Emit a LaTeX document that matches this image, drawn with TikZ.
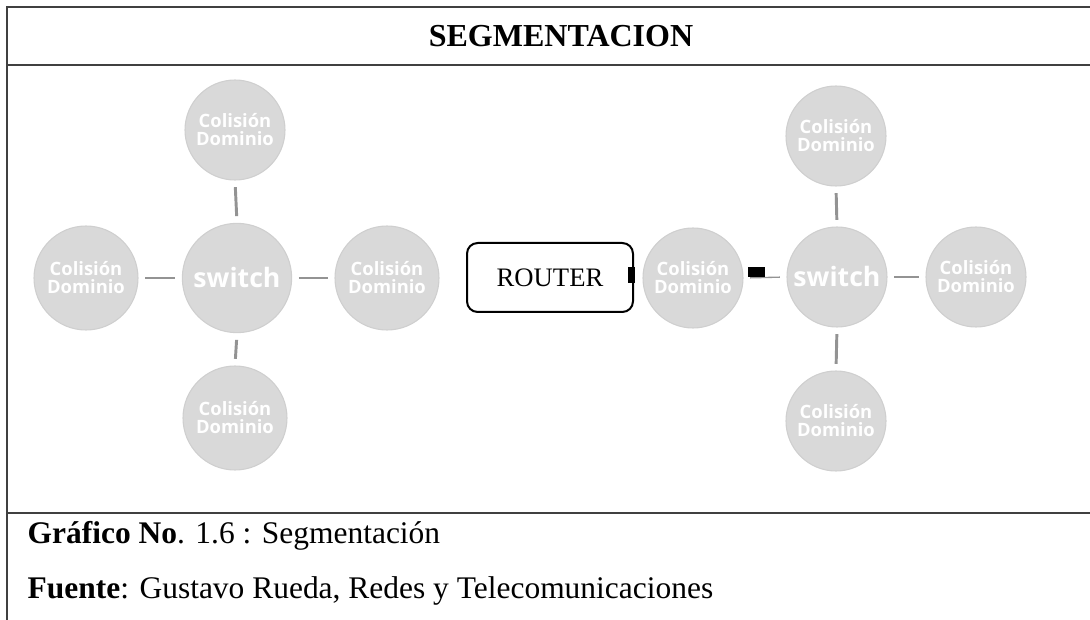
\documentclass[tikz,border=0pt]{standalone}
\usepackage{fontspec}
\usepackage{tikz}
\usepackage{xcolor}
\setmainfont{Liberation Serif}
\newfontfamily\domfont{Open Sans}
\tikzset{frame/.style={line width=1.5pt,black!75}}
\tikzset{dom/.style={circle,fill=gray!30,draw=gray!38,line width=0.8pt,minimum size=78pt,inner sep=0pt,text=white,align=center,font=\domfont\bfseries\fontsize{13.8}{13.5}\selectfont}}
\tikzset{swnode/.style={dom,font=\domfont\bfseries\fontsize{20}{20}\selectfont}}
\tikzset{link/.style={line width=2.2pt,gray!85,shorten <=5pt,shorten >=5pt}}
\tikzset{port/.style={fill=black,inner sep=0pt}}

\begin{document}
\begin{tikzpicture}[x=0.75pt,y=-0.75pt]
            \useasboundingbox (0,0) rectangle (1090,620);
            % draw the frame
            \draw[frame] (1090,7) -- (7,7) -- (7,620);
            \draw[frame] (7,65) -- (1090,65);
            \draw[frame] (7,513) -- (1090,513);
            \node[anchor=base,font=\fontsize{24}{28}\selectfont\bfseries] (title) at (561,47) {SEGMENTACION};
            % draw the left switch and its domains
            \node[swnode,minimum size=82pt] (lsw) at (237,278) {switch};
            \node[dom] (lw) at (86,278) {Colisión\\Dominio};
            \node[dom] (le) at (387,278) {Colisión\\Dominio};
            \node[dom,minimum size=75pt] (ln) at (235,130) {Colisión\\Dominio};
            \node[dom] (ls) at (235,418) {Colisión\\Dominio};
            \draw[link] (lw.east) -- (lsw.west);
            \draw[link] (lsw.east) -- (le.west);
            \draw[link] (ln.south) -- (lsw.north);
            \draw[link] (lsw.south) -- (ls.north);
            % draw the router and the right switch
            \node[draw,line width=1.5pt,rounded corners=8pt,minimum width=124.5pt,minimum height=51.75pt,font=\fontsize{20}{24}\selectfont] (router) at (550,277.5) {ROUTER};
            \node[port,minimum width=5.25pt,minimum height=12pt] (rport) at (631.5,275) {};
            \node[dom,minimum size=75pt] (mid) at (693,278) {Colisión\\Dominio};
            \node[swnode,minimum size=75pt] (rsw) at (837,277) {switch};
            \node[dom,minimum size=75pt] (rn) at (836,136) {Colisión\\Dominio};
            \node[dom,minimum size=75pt] (re) at (976,277) {Colisión\\Dominio};
            \node[dom,minimum size=75pt] (rs) at (836,421) {Colisión\\Dominio};
            \draw[link,line width=1pt,shorten >=5pt] (mid.east) -- (rsw.west);
            \node[port,minimum width=12.75pt,minimum height=7.5pt] (mport) at (756,272) {};
            \draw[link] (rn.south) -- (rsw.north);
            \draw[link] (rsw.east) -- (re.west);
            \draw[link] (rsw.south) -- (rs.north);
            % caption
            \node[anchor=base west,font=\fontsize{23.6}{28}\selectfont] (graf) at (23,543) {\textbf{Gráfico No}. 1.6 : Segmentación};
            \node[anchor=base west,font=\fontsize{23.6}{28}\selectfont] (fuente) at (23,598) {\textbf{Fuente}: Gustavo Rueda, Redes y Telecomunicaciones};
        \end{tikzpicture}
\end{document}
